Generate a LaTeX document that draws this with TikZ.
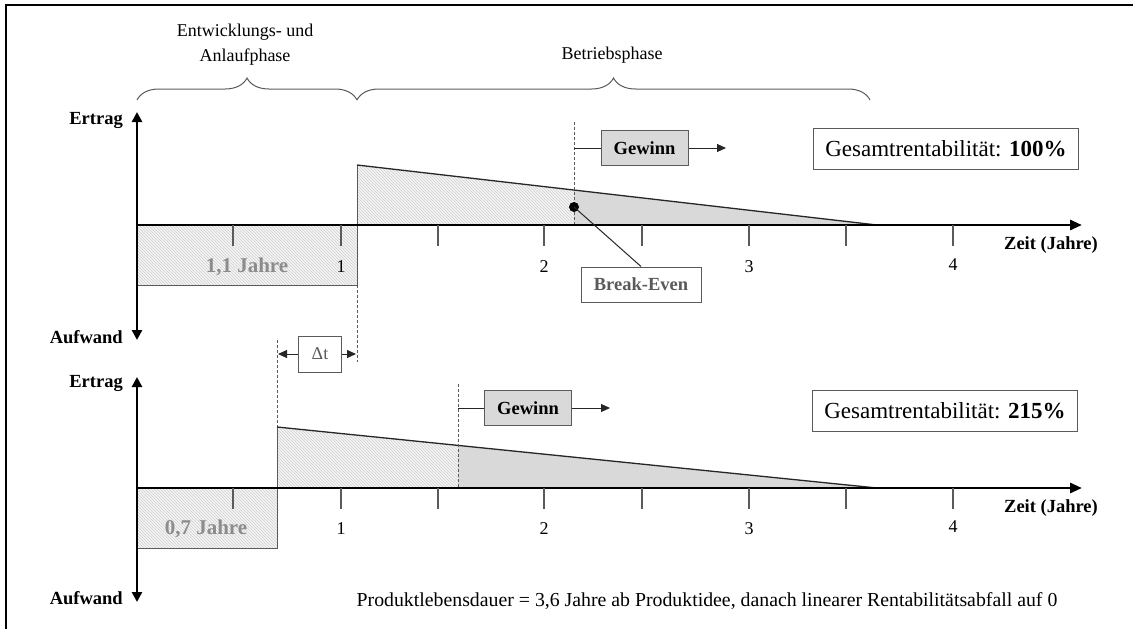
\documentclass[tikz,border=0pt]{standalone}
\usepackage{fontspec}
\setmainfont{Liberation Serif}
\usetikzlibrary{arrows.meta,patterns,decorations.pathreplacing}

\definecolor{profit}{RGB}{217,217,217}
\definecolor{hatchbg}{RGB}{244,244,244}
\definecolor{hatchline}{RGB}{208,208,208}
\definecolor{labelgray}{RGB}{140,140,140}
\definecolor{edgegray}{RGB}{90,90,90}

\tikzset{
  x=1pt, y=-1pt,
  base/.style={font=\fontsize{18}{25}\selectfont},
  axisarrows/.style={line width=2.8pt, {Triangle[length=10pt,width=10pt]}-{Triangle[length=10pt,width=10pt]}},
  xarrow/.style={line width=2.8pt, -{Triangle[length=12pt,width=10pt]}},
  tickmark/.style={line width=1.4pt, edgegray},
  ticklabel/.style={base, inner sep=0pt},
  axislabel/.style={font=\bfseries\fontsize{18.5}{22}\selectfont, inner sep=0pt},
  hatched/.style={preaction={fill=hatchbg}, pattern=north west lines, pattern color=hatchline},
  region/.style={draw=edgegray, line width=0.8pt},
  slope/.style={line width=1.3pt, black!85},
  guide/.style={draw=edgegray, line width=0.9pt, dash pattern=on 3pt off 2pt},
  gewinnbox/.style={draw=edgegray, fill=profit, line width=1pt, inner sep=0pt,
    minimum width=87pt, minimum height=35pt, font=\bfseries\fontsize{18.5}{22}\selectfont},
  plainbox/.style={draw=edgegray, fill=white, line width=1pt, inner sep=0pt},
  rentbox/.style={plainbox, minimum width=265pt, minimum height=41pt, font=\fontsize{23}{27}\selectfont},
  durlabel/.style={font=\bfseries\fontsize{21}{25}\selectfont, text=labelgray, inner sep=0pt},
  conn/.style={line width=1pt, black!85},
  connarrow/.style={line width=1pt, black!85, -{Triangle[length=9pt,width=8pt]}},
  brace/.style={decorate, decoration={brace, amplitude=22pt, aspect=0.5}, line width=1pt, edgegray},
}

\begin{document}
\begin{tikzpicture}
\useasboundingbox (0,0) rectangle (1133,629);

% frame (top and left edges)
\draw[line width=2pt] (6,629) -- (6,5) -- (1133,5);

% phase braces and headings
\draw[brace] (137,100) -- (357,100);
\draw[brace] (357,100) -- (870,100);
\node[base, align=center] (phase1) at (245,45) {Entwicklungs- und\\Anlaufphase};
\node[base] (phase2) at (612,55) {Betriebsphase};

% ================= upper diagram =================
% development cost
\path[hatched] (137,225) rectangle (357,285);
\draw[region] (137,285) -- (357,285) -- (357,225);
% revenue before break-even
\path[hatched] (357,225) -- (357,165) -- (574,190) -- (574,225) -- cycle;
% profit after break-even
\fill[profit] (574,225) -- (574,190) -- (877,225) -- cycle;
\draw[region] (357,225) -- (357,165);
\draw[slope] (357,165) -- (877,225);
\draw[guide] (574,122) -- (574,225);

% axes
\draw[axisarrows] (137,112) -- (137,340);
\draw[xarrow] (137,225) -- (1082,225);
\foreach \x in {233,341,438,544,642,749,846,953}
  \draw[tickmark] (\x,225) -- (\x,246);
\node[ticklabel] (u1) at (341,267) {1};
\node[ticklabel] (u2) at (544,267) {2};
\node[ticklabel] (u3) at (749,267) {3};
\node[ticklabel] (u4) at (953,265) {4};
\node[axislabel, anchor=east] (uertrag) at (123,120) {Ertrag};
\node[axislabel, anchor=east] (uaufwand) at (123,337) {Aufwand};
\node[axislabel] (uzeit) at (1051,245) {Zeit (Jahre)};
\node[durlabel] (udur) at (247,267) {1,1 Jahre};

% break-even marker
\node[circle, fill=black, inner sep=0pt, minimum size=10pt] (bedot) at (574,207) {};
\node[plainbox, minimum width=120pt, minimum height=35pt,
      font=\bfseries\fontsize{18.5}{22}\selectfont, text=edgegray] (bebox) at (641,284.5) {Break-Even};
\draw[conn] (bedot.center) -- (bebox.north);

% profit label
\node[gewinnbox] (ugw) at (644.5,148) {Gewinn};
\coordinate (ugwstart) at (574,148);
\coordinate (ugwend) at (726,148);
\draw[conn] (ugwstart) -- (ugw.west);
\draw[connarrow] (ugw.east) -- (ugwend);

\node[rentbox] (urent) at (946,148.5) {Gesamtrentabilität: \textbf{100\%}};

% ================= time shift =================
\draw[guide] (357,285) -- (357,362);
\draw[guide] (277,340) -- (277,427);
\node[plainbox, minimum width=43pt, minimum height=36pt,
      font=\fontsize{18}{22}\selectfont, text=edgegray] (dt) at (320,354) {Δt};
\coordinate (dtl) at (278,354);
\coordinate (dtr) at (356,354);
\draw[connarrow] (dt.west) -- (dtl);
\draw[connarrow] (dt.east) -- (dtr);

% ================= lower diagram =================
\path[hatched] (137,488) rectangle (277,548);
\draw[region] (137,548) -- (277,548) -- (277,488);
\path[hatched] (277,488) -- (277,427) -- (458,445) -- (458,488) -- cycle;
\fill[profit] (458,488) -- (458,445) -- (877,488) -- cycle;
\draw[region] (277,488) -- (277,427);
\draw[slope] (277,427) -- (877,488);
\draw[guide] (458,384) -- (458,488);

\draw[axisarrows] (137,377) -- (137,602);
\draw[xarrow] (137,488) -- (1082,488);
\foreach \x in {233,341,438,544,642,749,846,953}
  \draw[tickmark] (\x,488) -- (\x,509);
\node[ticklabel] (l1) at (341,529) {1};
\node[ticklabel] (l2) at (544,529) {2};
\node[ticklabel] (l3) at (749,529) {3};
\node[ticklabel] (l4) at (953,527) {4};
\node[axislabel, anchor=east] (lertrag) at (123,383) {Ertrag};
\node[axislabel, anchor=east] (laufwand) at (123,598) {Aufwand};
\node[axislabel] (lzeit) at (1051,508) {Zeit (Jahre)};
\node[durlabel] (ldur) at (206,529) {0,7 Jahre};

\node[gewinnbox] (lgw) at (528,408) {Gewinn};
\coordinate (lgwstart) at (458,408);
\coordinate (lgwend) at (610,408);
\draw[conn] (lgwstart) -- (lgw.west);
\draw[connarrow] (lgw.east) -- (lgwend);

\node[rentbox] (lrent) at (945,411) {Gesamtrentabilität: \textbf{215\%}};

\node[font=\fontsize{19.8}{24}\selectfont] (note) at (707,601) {Produktlebensdauer = 3,6 Jahre ab Produktidee, danach linearer Rentabilitätsabfall auf 0};
\end{tikzpicture}
\end{document}
